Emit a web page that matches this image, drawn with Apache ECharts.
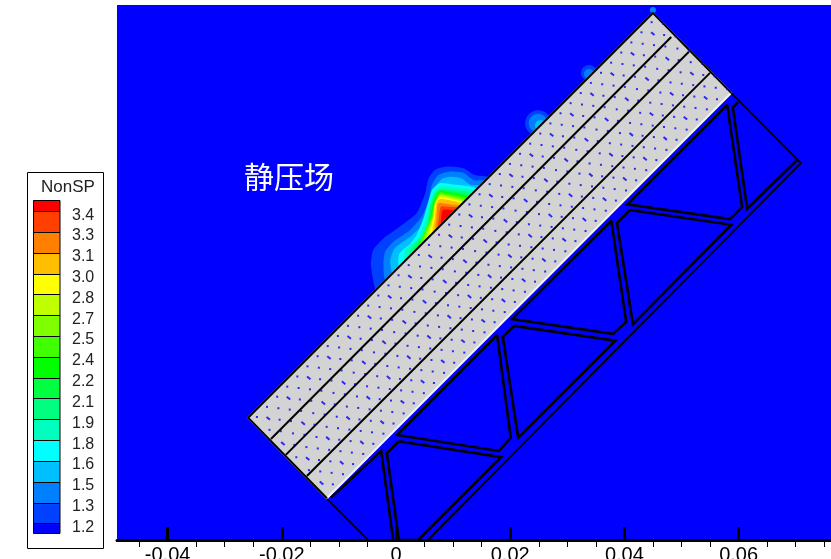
<!DOCTYPE html>
<html><head><meta charset="utf-8">
<style>html,body{margin:0;padding:0;background:#fff;overflow:hidden}#c{width:831px;height:559px}</style>
<script src="https://cdn.jsdelivr.net/npm/echarts@6/dist/echarts.min.js"></script>
</head><body><div id="c"></div>
<script>
// All geometry is in millimetres; axis labels show metres.
const xTicks = [-40,-20,0,20,40,60];
const xMinorTicks = [-45,-35,-30,-25,-15,-10,-5,5,10,15,25,30,35,45,50,55,65,70,75];
const legendName = 'NonSP';
const legendLevels = [3.45,3.30,3.15,3.00,2.85,2.70,2.55,2.40,2.25,2.10,1.95,1.80,1.65,1.50,1.35,1.20];
const legendLabels = ['3.4','3.3','3.1','3.0','2.8','2.7','2.5','2.4','2.2','2.1','1.9','1.8','1.6','1.5','1.3','1.2'];
const bandColors = ['#0000ff','#0040ff','#0080ff','#00bfff','#00ffff','#00ffbf','#00ff80','#00ff40','#00ff00','#40ff00','#80ff00','#bfff00','#ffff00','#ffbf00','#ff8000','#ff4000','#ff0000'];

const contour01 = [[-3.4,43.8],[-4.0,45.5],[-4.4,48.4],[-4.0,50.8],[-2.2,52.8],[0.7,54.9],[3.6,57.2],[5.1,60.7],[5.7,63.3],[6.8,64.8],[8.9,65.4],[11.8,65.1],[13.8,63.9],[16.5,63.3]];
const contour02 = [[-1.7,45.4],[-2.2,48.4],[-1.9,50.5],[-0.5,52.2],[2.5,54.3],[4.5,56.6],[5.7,59.5],[6.3,62.2],[7.4,63.9],[9.2,64.5],[11.8,64.3],[13.6,63.0],[15.9,62.8]];
const contour03 = [[-0.5,46.7],[-1.0,49.0],[-0.2,51.1],[2.5,53.1],[5.1,55.7],[6.3,58.7],[6.8,61.6],[8.0,63.2],[9.5,63.6],[11.5,63.3],[13.0,62.2],[15.0,61.9]];
const contour04 = [[0.6,47.9],[0.6,50.2],[2.5,51.9],[3.6,53.4],[4.8,56.3],[5.6,59.0],[6.3,61.3],[7.7,62.5],[9.8,62.3],[14.1,61.4]];
const contour05 = [[1.6,48.9],[1.6,50.8],[3.6,52.5],[4.2,53.4],[5.2,56.3],[5.9,59.0],[6.6,60.9],[7.7,61.9],[9.8,61.8],[13.7,61.0]];
const contour06 = [[2.3,49.6],[3.1,51.7],[4.7,53.4],[5.6,56.3],[6.1,59.0],[6.8,60.7],[7.7,61.5],[9.8,61.3],[13.3,60.6]];
const contour07 = [[2.9,50.2],[5.0,53.4],[5.8,56.3],[6.3,59.0],[7.0,60.6],[7.7,61.3],[9.8,61.0],[13.0,60.2]];
const contour08 = [[3.6,50.9],[5.2,53.4],[6.0,56.3],[6.5,59.0],[7.2,60.5],[7.7,61.1],[9.8,60.7],[12.7,60.0]];
const contour09 = [[4.3,51.6],[6.1,56.3],[6.7,59.0],[7.3,60.4],[7.7,60.9],[9.8,60.5],[12.4,59.7]];
const contour10 = [[4.9,52.2],[6.3,56.3],[6.8,59.0],[7.4,60.2],[7.7,60.6],[9.8,60.2],[12.1,59.4]];
const contour11 = [[5.4,52.6],[6.4,56.3],[6.85,59.0],[7.4,60.0],[7.7,60.4],[9.8,60.0],[11.9,59.2]];
const contour12 = [[6.0,53.2],[6.5,56.3],[6.9,59.0],[7.4,59.8],[7.7,60.1],[9.8,59.7],[11.8,59.0]];
const contour13 = [[6.5,53.8],[6.8,56.3],[7.1,59.0],[7.7,59.7],[9.8,59.4],[11.5,58.8]];
const contour14 = [[7.0,54.3],[7.1,56.3],[7.3,58.8],[7.7,59.0],[9.8,58.7],[11.2,58.5]];
const contour15 = [[7.4,54.7],[7.5,56.3],[7.9,58.4],[9.8,58.3],[10.9,58.2]];
const contour16 = [[7.9,55.2],[7.9,56.3],[8.2,57.8],[9.8,57.8],[10.6,57.9]];
const contourAnchor = [14,50];

// x, y, radius, band index
const hotSpots = [[24.9,73.0,2.28,1],[24.9,73.0,1.66,2],[25.3,72.6,0.96,3],[33.8,81.8,1.4,1],[33.8,81.6,0.88,2],[45.0,92.8,0.53,2]];

const plateTop = [45.0,92.3];
const plateRight = [58.7,78.3];
const plateBottom = [-12.1,7.3];
const plateLeft = [-25.9,21.4];
const divider1 = [[48.2,88.1],[-21.9,17.7]];
const divider2 = [[51.3,85.5],[-19.3,14.9]];
const divider3 = [[55.0,81.8],[-15.6,11.2]];

const trussOuter = [[58.7,78.3],[70.9,66.0],[5.6,0]];
const trussFoot = [[-12.1,7.2],[-4.9,0]];
const cellA = [[70.2,66.5],[61.5,58.0],[59.0,75.7],[59.9,76.7]];
const cellC = [[58.0,76.2],[60.6,58.3],[58.5,56.2],[40.5,58.8],[58.0,76.2]];
const cellD = [[41.0,57.8],[58.7,55.2],[41.5,37.8],[38.7,55.5],[41.0,57.8]];
const cellE = [[37.7,55.9],[40.3,38.2],[38.0,36.1],[20.3,38.7],[37.7,55.9]];
const cellF = [[20.7,37.5],[38.4,34.9],[21.4,17.9],[18.7,35.6],[20.7,37.5]];
const cellG = [[17.7,35.9],[20.1,17.9],[18.0,15.6],[0.2,18.4],[17.7,35.9]];
const cellH = [[0.5,17.3],[18.4,14.5],[3.9,0],[0.5,0],[-1.6,15.2],[0.5,17.3]];
const cellI = [[-11.4,7.4],[-2.6,15.6],[-0.5,0]];

// mesh stations on the plate: fraction along its long edge, fraction across it
const meshAlong = [0.012,0.037,0.062,0.087,0.112,0.137,0.162,0.187,0.212,0.237,0.262,0.287,0.312,0.337,0.362,0.387,0.412,0.437,0.462,0.487,0.512,0.537,0.562,0.587,0.612,0.637,0.662,0.687,0.712,0.737,0.762,0.787,0.812,0.837,0.862,0.887,0.912,0.937,0.962,0.987];
const meshAcross = [0.05,0.13,0.21,0.29,0.38,0.46,0.55,0.63,0.71,0.79,0.87,0.95];
const meshLarge = [0.13,0.38,0.63,0.87];

const contours = [contour01,contour02,contour03,contour04,contour05,contour06,contour07,contour08,contour09,contour10,contour11,contour12,contour13,contour14,contour15,contour16];
const truss = [trussOuter,trussFoot,cellA,cellC,cellD,cellE,cellF,cellG,cellH,cellI];
const dividers = [divider1,divider2,divider3];

function meshPoint(u,v){
  const ax = plateLeft[0]+(plateTop[0]-plateLeft[0])*u, ay = plateLeft[1]+(plateTop[1]-plateLeft[1])*u;
  const bx = plateBottom[0]+(plateRight[0]-plateBottom[0])*u, by = plateBottom[1]+(plateRight[1]-plateBottom[1])*u;
  return [ax+(bx-ax)*v, ay+(by-ay)*v];
}
const meshSmall=[], meshBig=[];
meshAlong.forEach((u,i)=>meshAcross.forEach((v,j)=>{
  const p = meshPoint(u+(j%2?0.0125:0),v);
  if(meshLarge.includes(v) && i%2===0) meshBig.push(p); else meshSmall.push(p);
}));

const pts=(api,arr)=>arr.map(p=>api.coord(p));
const font='"Liberation Sans", Arial, sans-serif';
const chart=echarts.init(document.getElementById('c'),null,{renderer:'canvas'});
chart.setOption({
  animation:false,
  backgroundColor:'#fff',
  graphic:[
    {type:'rect',z:0,shape:{x:27.5,y:172.5,width:76,height:376},style:{fill:'#fff',stroke:'#000',lineWidth:1}},
    {type:'text',z:5,x:41,y:179,style:{text:legendName,font:'17px '+font,fill:'#222'}},
    {type:'text',z:5,x:244,y:162,style:{text:'静压场',font:'30px "Noto Sans CJK SC"',fill:'#fff'}}
  ],
  grid:[
    {left:117,top:5,width:714,height:535,show:true,backgroundColor:'#0000ff',borderWidth:0,outerBoundsMode:'none'},
    {left:33,top:200.3,width:26.5,height:333,show:false,outerBoundsMode:'none'}
  ],
  xAxis:[
    {gridIndex:0,type:'value',min:-48.86,max:76.18,splitLine:{show:false},
     axisLine:{show:true,onZero:false,lineStyle:{color:'#000',width:3}},
     axisTick:{show:true,inside:true,length:13,customValues:xTicks,lineStyle:{color:'#000',width:3}},
     axisLabel:{show:true,customValues:xTicks,margin:5,color:'#000',fontSize:20,fontFamily:'Liberation Sans',formatter:v=>String(v/1000),hideOverlap:false,showMinLabel:true,showMaxLabel:true}},
    {gridIndex:0,type:'value',min:-48.86,max:76.18,splitLine:{show:false},
     axisLine:{show:false},axisLabel:{show:false},
     axisTick:{show:true,inside:true,length:7,customValues:xMinorTicks,lineStyle:{color:'#000',width:1}}},
    {gridIndex:1,type:'value',min:0,max:1,show:false}
  ],
  yAxis:[
    {gridIndex:0,type:'value',min:0,max:93.69,show:false},
    {gridIndex:1,type:'value',min:1.128,max:3.529,show:false}
  ],
  series:[
    {type:'custom',z:2,xAxisIndex:0,yAxisIndex:0,clip:true,silent:true,data:contours.map((c,i)=>[i]),
     encode:{x:[],y:[]},
     renderItem:(p,api)=>{const i=api.value(0);return {type:'polygon',shape:{points:pts(api,contours[i].concat([contourAnchor])),smooth:0.2},style:{fill:bandColors[i+1]}};}},
    {type:'custom',z:3,xAxisIndex:0,yAxisIndex:0,clip:true,silent:true,data:hotSpots,
     renderItem:(p,api)=>{const c=api.coord([api.value(0),api.value(1)]);const r=api.size([api.value(2),0])[0];
       return {type:'circle',shape:{cx:c[0],cy:c[1],r:r},style:{fill:bandColors[api.value(3)]}};}},
    {type:'custom',z:4,xAxisIndex:0,yAxisIndex:0,clip:true,silent:true,data:[[0]],
     renderItem:(p,api)=>({type:'group',children:[
       {type:'polygon',shape:{points:pts(api,[plateTop,plateRight,plateBottom,plateLeft])},style:{fill:'#d3d3d3',stroke:'#f4f4f4',lineWidth:2}},
       {type:'polyline',shape:{points:pts(api,[plateRight,plateTop,plateLeft,plateBottom])},style:{fill:null,stroke:'#000',lineWidth:2}}
     ]})},
    {type:'scatter',z:5,xAxisIndex:0,yAxisIndex:0,silent:true,symbol:'rect',symbolSize:[2,2],itemStyle:{color:'#0000ff'},data:meshSmall},
    {type:'scatter',z:5,xAxisIndex:0,yAxisIndex:0,silent:true,symbol:'rect',symbolSize:[4.5,2],symbolRotate:-40,itemStyle:{color:'#0000ff'},data:meshBig},
    {type:'custom',z:6,xAxisIndex:0,yAxisIndex:0,clip:true,silent:true,data:dividers.map((d,i)=>[i]),
     renderItem:(p,api)=>({type:'polyline',shape:{points:pts(api,dividers[api.value(0)])},style:{fill:null,stroke:'#000',lineWidth:2}})},
    {type:'custom',z:6,xAxisIndex:0,yAxisIndex:0,clip:true,silent:true,data:truss.map((d,i)=>[i]),
     renderItem:(p,api)=>{const i=api.value(0);return {type:'polyline',shape:{points:pts(api,truss[i])},style:{fill:null,stroke:'#000',lineWidth:i<2?2:2.6,lineJoin:'miter'}};}},
    {type:'custom',z:3,xAxisIndex:2,yAxisIndex:1,silent:true,data:bandColors.map((c,i)=>[i]),
     renderItem:(p,api)=>{
       const i=api.value(0);
       const low = i===0 ? 1.128 : legendLevels[16-i];
       const high = i===16 ? 3.529 : legendLevels[15-i];
       const a=api.coord([0,high]), b=api.coord([1,low]);
       return {type:'rect',shape:{x:a[0]+0.5,y:Math.round(a[1])+0.5,width:b[0]-a[0],height:Math.round(b[1])-Math.round(a[1])},style:{fill:bandColors[i],stroke:'#000',lineWidth:1}};}},
    {type:'custom',z:4,xAxisIndex:2,yAxisIndex:1,silent:true,data:legendLabels.map((c,i)=>[i]),
     renderItem:(p,api)=>{
       const i=api.value(0);const a=api.coord([1,legendLevels[i]]);
       return {type:'text',style:{x:a[0]+12.5,y:a[1]+4,text:legendLabels[i],font:'16px '+font,fill:'#222',verticalAlign:'middle'}};}}
  ]
});
</script></body></html>
